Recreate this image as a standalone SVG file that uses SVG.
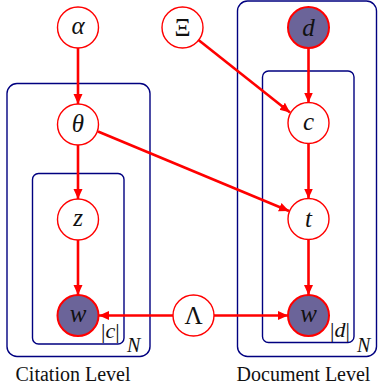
<svg xmlns="http://www.w3.org/2000/svg" width="378" height="389" viewBox="0 0 378 389">
<style>
.plate{fill:none;stroke:#000080;stroke-width:1.4}
.node{fill:#ffffff;stroke:#ff0000;stroke-width:1.4}
.obs{fill:#6b6499;stroke:#ff0000;stroke-width:2}
.edge{stroke:#ff0000;stroke-width:2.6;fill:none}
text{font-family:'Liberation Serif','Times New Roman',serif;fill:#111111}
.lab{font-style:italic;font-size:25px;text-anchor:middle}
.up{font-style:normal}
.pl{font-size:20px}
.bar{font-size:22px}
.cap{font-size:20px;text-anchor:middle}
</style>
<defs>
<marker id="arr" markerUnits="userSpaceOnUse" markerWidth="10" markerHeight="10" viewBox="0 0 10 10" refX="10" refY="5" orient="auto">
<path d="M0,0.5 L10,5 L0,9.5 z" fill="#ff0000"/>
</marker>
</defs>
<g id="plates">
<rect class="plate" x="7" y="83.5" width="143" height="273" rx="10"/>
<rect class="plate" x="32.5" y="173.5" width="91.5" height="170.5" rx="6"/>
<rect class="plate" x="237.5" y="1" width="139" height="355.5" rx="10"/>
<rect class="plate" x="262.5" y="71" width="91.5" height="271.5" rx="6"/>
<text class="pl" x="127" y="352" font-style="italic">N</text>
<text class="pl" x="357" y="352" font-style="italic">N</text>
<text class="bar" x="101" y="338">|<tspan font-style="italic">c</tspan>|</text>
<text class="bar" x="330" y="337">|<tspan font-style="italic">d</tspan>|</text>
</g>
<g id="connectors">
<line class="edge" x1="78" y1="48" x2="78" y2="104" marker-end="url(#arr)"/>
<line class="edge" x1="78" y1="145" x2="78" y2="199" marker-end="url(#arr)"/>
<line class="edge" x1="78" y1="240" x2="78" y2="295" marker-end="url(#arr)"/>
<line class="edge" x1="98" y1="131.5" x2="289" y2="211" marker-end="url(#arr)"/>
<line class="edge" x1="198.5" y1="40" x2="290" y2="112.5" marker-end="url(#arr)"/>
<line class="edge" x1="308.5" y1="48" x2="308.5" y2="102.5" marker-end="url(#arr)"/>
<line class="edge" x1="308.5" y1="143.5" x2="308.5" y2="198.5" marker-end="url(#arr)"/>
<line class="edge" x1="308.5" y1="239.5" x2="308.5" y2="295" marker-end="url(#arr)"/>
<line class="edge" x1="173" y1="315.5" x2="99" y2="315.5" marker-end="url(#arr)"/>
<line class="edge" x1="214" y1="315.5" x2="288" y2="315.5" marker-end="url(#arr)"/>
</g>
<g id="node-alpha"><circle class="node" cx="78" cy="27.5" r="20.5"/><text class="lab" x="78" y="34">α</text></g>
<g id="node-theta"><circle class="node" cx="78" cy="124.5" r="20.5"/><text class="lab" x="78" y="132">θ</text></g>
<g id="node-z"><circle class="node" cx="78" cy="219.5" r="20.5"/><text class="lab" x="78" y="226">z</text></g>
<g id="node-wc"><circle class="obs" cx="78" cy="315.5" r="20.5"/><text class="lab" x="78" y="322">w</text></g>
<g id="node-xi"><circle class="node" cx="182.5" cy="27.5" r="20.5"/><text class="lab up" x="182.5" y="36">Ξ</text></g>
<g id="node-lambda"><circle class="node" cx="193.5" cy="315.5" r="20.5"/><text class="lab up" x="193.5" y="324">Λ</text></g>
<g id="node-d"><circle class="obs" cx="308.5" cy="27.5" r="20.5"/><text class="lab" x="308.5" y="36">d</text></g>
<g id="node-c"><circle class="node" cx="308.5" cy="123" r="20.5"/><text class="lab" x="308.5" y="130">c</text></g>
<g id="node-t"><circle class="node" cx="308.5" cy="219" r="20.5"/><text class="lab" x="308.5" y="227">t</text></g>
<g id="node-wd"><circle class="obs" cx="308.5" cy="315.5" r="20.5"/><text class="lab" x="308.5" y="322">w</text></g>
<text class="cap" x="73" y="381">Citation Level</text>
<text class="cap" x="303.5" y="381">Document Level</text>
</svg>
